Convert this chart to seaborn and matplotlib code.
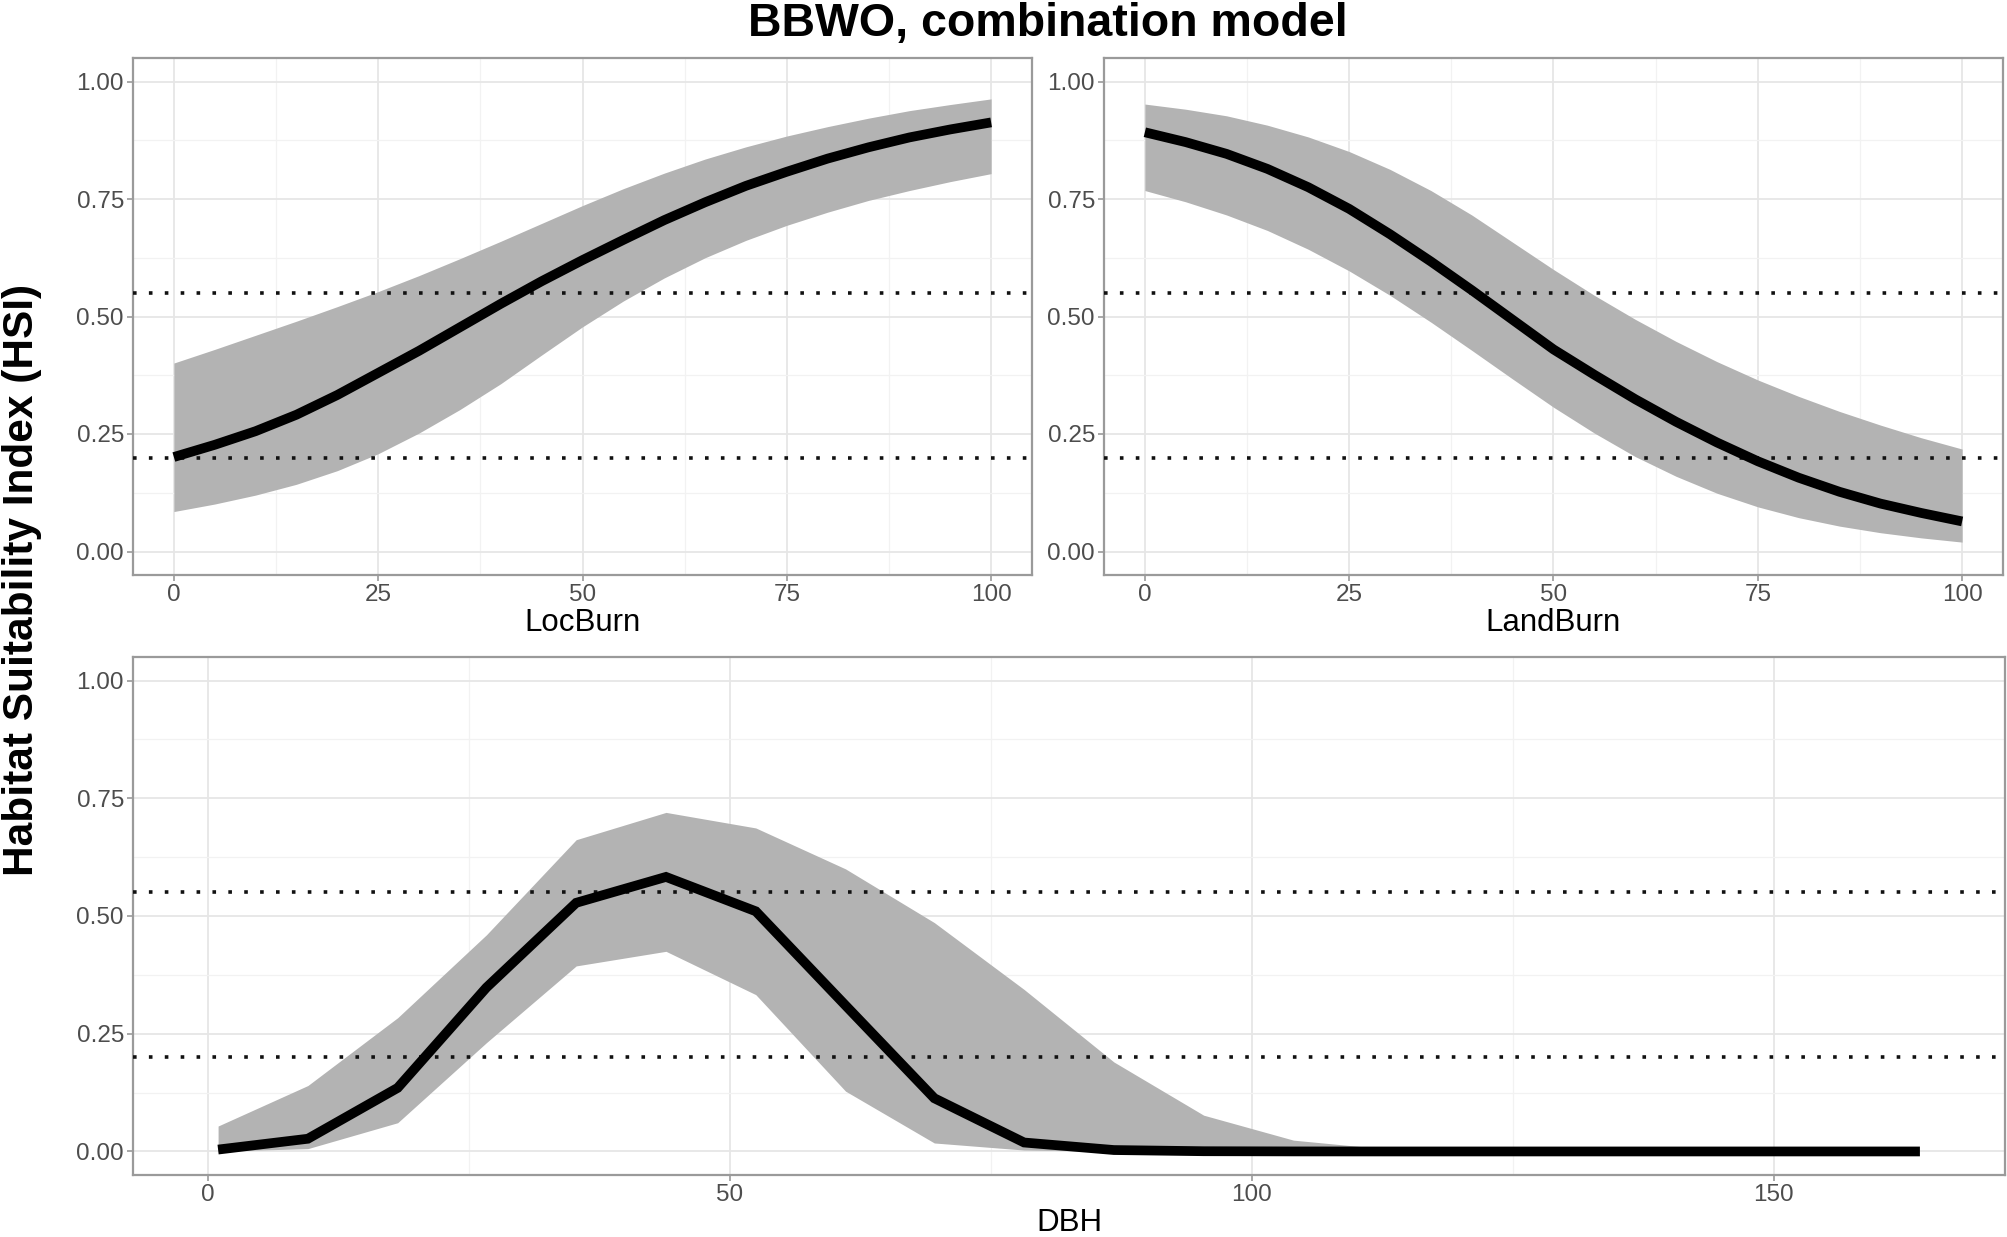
import matplotlib
matplotlib.use("Agg")
import matplotlib.pyplot as plt
import seaborn as sns
import numpy as np
import pandas as pd
from matplotlib.ticker import MultipleLocator, FixedLocator

# ---------------- data ----------------
title = "BBWO, combination model"
ylabel = "Habitat Suitability Index (HSI)"
thresholds = [0.55, 0.2]

loc_x = [0, 5, 10, 15, 20, 25, 30, 35, 40, 45, 50, 55, 60, 65, 70, 75, 80, 85, 90, 95, 100]
loc_fit = [0.201, 0.227, 0.256, 0.291, 0.333, 0.380, 0.427, 0.477, 0.527, 0.575, 0.620,
           0.663, 0.705, 0.743, 0.778, 0.808, 0.836, 0.860, 0.881, 0.898, 0.913]
loc_lo = [0.085, 0.101, 0.120, 0.143, 0.172, 0.208, 0.252, 0.302, 0.357, 0.418, 0.478,
          0.533, 0.582, 0.625, 0.662, 0.694, 0.722, 0.747, 0.768, 0.787, 0.804]
loc_hi = [0.401, 0.430, 0.460, 0.490, 0.521, 0.553, 0.587, 0.623, 0.660, 0.698, 0.736,
          0.772, 0.805, 0.835, 0.861, 0.884, 0.904, 0.922, 0.938, 0.951, 0.963]

land_x = [0, 5, 10, 15, 20, 25, 30, 35, 40, 45, 50, 55, 60, 65, 70, 75, 80, 85, 90, 95, 100]
land_fit = [0.892, 0.871, 0.846, 0.814, 0.775, 0.729, 0.675, 0.617, 0.556, 0.493, 0.430,
            0.376, 0.324, 0.276, 0.232, 0.192, 0.157, 0.127, 0.102, 0.082, 0.064]
land_lo = [0.768, 0.744, 0.716, 0.683, 0.643, 0.597, 0.545, 0.488, 0.428, 0.367, 0.307,
           0.252, 0.202, 0.160, 0.124, 0.095, 0.072, 0.054, 0.040, 0.029, 0.020]
land_hi = [0.952, 0.941, 0.927, 0.907, 0.882, 0.851, 0.813, 0.768, 0.716, 0.658, 0.600,
           0.545, 0.494, 0.447, 0.404, 0.365, 0.330, 0.298, 0.269, 0.242, 0.218]

dbh_x = [1, 9.6, 18.2, 26.7, 35.3, 43.9, 52.5, 61.1, 69.6, 78.2, 86.8, 95.4, 104.0,
         112.5, 121.1, 129.7, 138.3, 146.9, 155.4, 164.0]
dbh_fit = [0.004, 0.027, 0.135, 0.348, 0.528, 0.583, 0.510, 0.310, 0.113, 0.019, 0.003,
           0.0005, 0.0001, 0, 0, 0, 0, 0, 0, 0]
dbh_lo = [0.0005, 0.006, 0.061, 0.231, 0.394, 0.425, 0.333, 0.128, 0.018, 0.003, 0.0004,
          0, 0, 0, 0, 0, 0, 0, 0, 0]
dbh_hi = [0.054, 0.140, 0.284, 0.460, 0.662, 0.720, 0.687, 0.600, 0.486, 0.344, 0.190,
          0.077, 0.024, 0.006, 0.002, 0.0005, 0, 0, 0, 0]

y_ticks = [0.0, 0.25, 0.5, 0.75, 1.0]
y_ticklabels = ["0.00", "0.25", "0.50", "0.75", "1.00"]
top_xticks = [0, 25, 50, 75, 100]
bot_xticks = [0, 50, 100, 150]

# ---------------- style ----------------
sns.set_theme(style="white")
plt.rcParams['font.family'] = ['Liberation Sans', 'DejaVu Sans']

W, H = 2007, 1237
fig = plt.figure(figsize=(W / 100, H / 100), dpi=100)


def px_axes(left, right, top, bottom):
    return fig.add_axes([left / W, 1 - bottom / H, (right - left) / W, (bottom - top) / H])


ax1 = px_axes(133, 1032, 58, 575)
ax2 = px_axes(1104, 2003, 58, 575)
ax3 = px_axes(133, 2005, 657, 1175)

panels = [
    (ax1, loc_x, loc_fit, loc_lo, loc_hi, "LocBurn", top_xticks, 12.5, (-5, 105)),
    (ax2, land_x, land_fit, land_lo, land_hi, "LandBurn", top_xticks, 12.5, (-5, 105)),
    (ax3, dbh_x, dbh_fit, dbh_lo, dbh_hi, "DBH", bot_xticks, 25, (-7.15, 172.15)),
]

for ax, xs, fit, lo, hi, xl, xt, minor, xlim in panels:
    df = pd.DataFrame({"x": xs, "y": fit})
    ax.set_facecolor("white")
    ax.fill_between(xs, lo, hi, color="#b3b3b3", linewidth=0, zorder=2)
    for t in thresholds:
        ax.axhline(t, color="#111111", linewidth=2.6, linestyle=(0, (1, 3.4)),
                   dash_capstyle="butt", zorder=3)
    sns.lineplot(data=df, x="x", y="y", ax=ax, color="black", linewidth=7,
                 solid_capstyle="butt", solid_joinstyle="miter", zorder=4)
    ax.set_xlim(*xlim)
    ax.set_ylim(-0.05, 1.05)
    ax.set_xticks(xt)
    ax.set_xticklabels([str(v) for v in xt])
    ax.xaxis.set_minor_locator(MultipleLocator(minor))
    ax.set_yticks(y_ticks)
    ax.set_yticklabels(y_ticklabels)
    ax.yaxis.set_minor_locator(FixedLocator([0.125, 0.375, 0.625, 0.875]))
    ax.grid(True, which="major", color="#e6e6e6", linewidth=1.3, zorder=0)
    ax.grid(True, which="minor", color="#f2f2f2", linewidth=0.9, zorder=0)
    ax.set_axisbelow(True)
    for s in ax.spines.values():
        s.set_color("#9a9a9a")
        s.set_linewidth(1.6)
    ax.tick_params(axis="both", which="major", length=4.5, width=1.2, color="#9a9a9a",
                   labelsize=17.5, labelcolor="#4d4d4d", pad=2, left=True, bottom=True)
    ax.tick_params(axis="both", which="minor", length=0)
    ax.set_xlabel(xl, fontsize=22.5, color="black", labelpad=1.5)
    ax.set_ylabel("")

fig.text(1048 / W, 1 - 24 / H, title, ha="center", va="center", fontsize=33.5,
         fontweight="bold", color="black")
fig.text(22 / W, 1 - 580 / H, ylabel, ha="center", va="center", rotation=90,
         fontsize=30.5, fontweight="bold", color="black")

fig.savefig("out.png", dpi=100, facecolor="white")
